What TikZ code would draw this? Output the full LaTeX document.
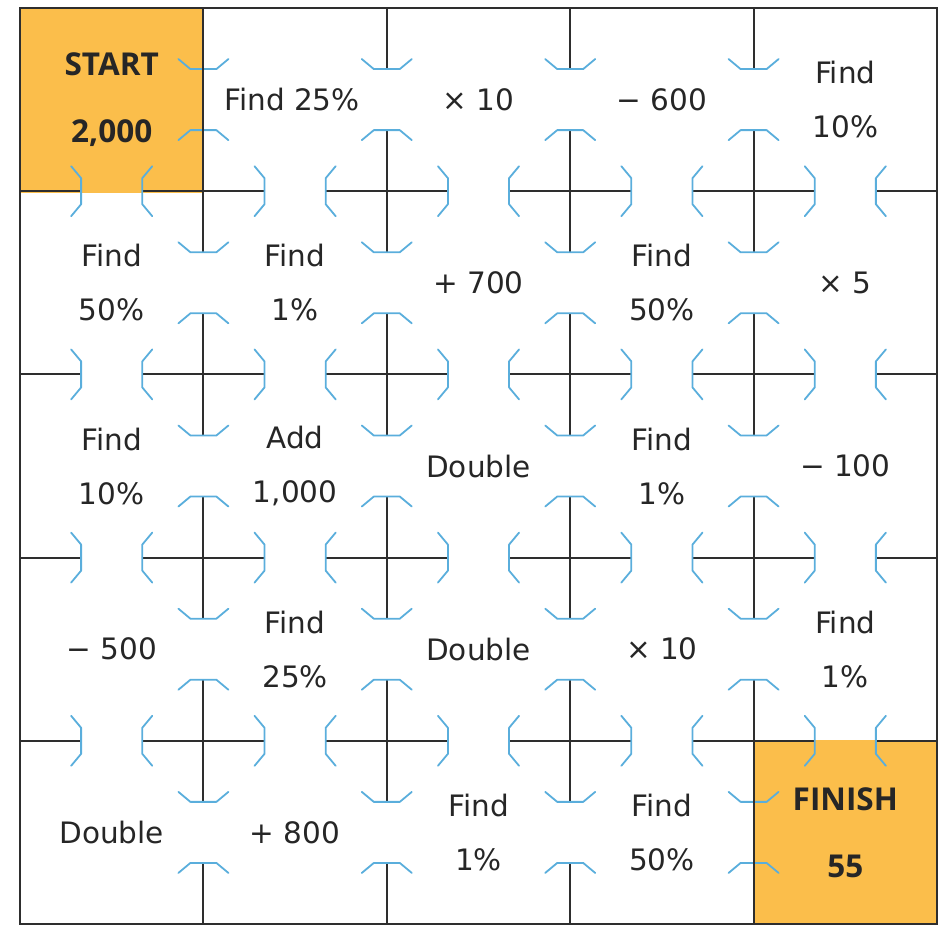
\documentclass[tikz,border=0pt]{standalone}
\usepackage{fontspec}
\setmainfont{DejaVu Sans}
\newfontfamily\boldlbl{Open Sans}[UprightFont=* Bold]
\definecolor{wallc}{HTML}{2E2E2E}
\definecolor{doorc}{HTML}{5AAEDC}
\definecolor{startc}{HTML}{FBBE4B}
\definecolor{txtc}{HTML}{262626}
\begin{document}
\begin{tikzpicture}[x=1pt,y=-1pt,
  wall/.style={draw=wallc,line width=2.1pt},
  doorline/.style={draw=doorc,line width=1.8pt,line join=round,line cap=round},
  lbl/.style={font=\fontsize{29.5}{54}\selectfont,align=center,text=txtc},
  endlbl/.style={font=\boldlbl\fontsize{31.5}{67}\selectfont,align=center,text=txtc}]
\useasboundingbox (0,0) rectangle (941,937);
\def\Sx{183.4}
\def\Sy{183.2}
% coloured cells
\fill[startc] (20,8) rectangle (203.4,192.5);
\fill[startc] (753.6,739.5) rectangle (937,924);
% vertical internal walls
\foreach \i in {1,...,4} {
  \foreach \j in {0,...,4} {
    \pgfmathsetmacro\X{20+\Sx*\i}
    \pgfmathsetmacro\Ya{8+\Sy*\j}
    \pgfmathsetmacro\Yb{\Ya+\Sy/3}
    \pgfmathsetmacro\Yc{\Ya+2*\Sy/3}
    \pgfmathsetmacro\Yd{\Ya+\Sy}
    \draw[wall] (\X,\Ya) -- (\X,\Yb);
    \draw[wall] (\X,\Yc) -- (\X,\Yd);
    \draw[doorline] ({\X-25},{\Yb-10}) -- ({\X-13},\Yb) -- ({\X+13},\Yb) -- ({\X+25},{\Yb-10});
    \draw[doorline] ({\X-25},{\Yc+10}) -- ({\X-13},\Yc) -- ({\X+13},\Yc) -- ({\X+25},{\Yc+10});
  }
}
% horizontal internal walls
\foreach \j in {1,...,4} {
  \foreach \i in {0,...,4} {
    \pgfmathsetmacro\Y{8+\Sy*\j}
    \pgfmathsetmacro\Xa{20+\Sx*\i}
    \pgfmathsetmacro\Xb{\Xa+\Sx/3}
    \pgfmathsetmacro\Xc{\Xa+2*\Sx/3}
    \pgfmathsetmacro\Xd{\Xa+\Sx}
    \draw[wall] (\Xa,\Y) -- (\Xb,\Y);
    \draw[wall] (\Xc,\Y) -- (\Xd,\Y);
    \draw[doorline] ({\Xb-10},{\Y-25}) -- (\Xb,{\Y-13}) -- (\Xb,{\Y+13}) -- ({\Xb-10},{\Y+25});
    \draw[doorline] ({\Xc+10},{\Y-25}) -- (\Xc,{\Y-13}) -- (\Xc,{\Y+13}) -- ({\Xc+10},{\Y+25});
  }
}
% solid edges of start and finish cells
\draw[wall] (203.4,8) -- (203.4,191.2);
\draw[wall] (753.6,740.8) -- (753.6,924);
% outer border
\draw[wall] (20,8) rectangle (937,924);
% labels
\node[endlbl] (c00) at (111.7,99.6) {START\\2,000};
\node[lbl] (c10) at (292,99.6) {Find 25\%};
\node[lbl] (c20) at (478.5,99.6) {× 10};
\node[lbl] (c30) at (661.9,99.6) {− 600};
\node[lbl] (c40) at (845.3,99.6) {Find\\10\%};
\node[lbl] (c01) at (111.7,282.8) {Find\\50\%};
\node[lbl] (c11) at (295.1,282.8) {Find\\1\%};
\node[lbl] (c21) at (478.5,282.8) {+ 700};
\node[lbl] (c31) at (661.9,282.8) {Find\\50\%};
\node[lbl] (c41) at (845.3,282.8) {× 5};
\node[lbl] (c02) at (111.7,466) {Find\\10\%};
\node[lbl] (c12) at (295.1,466) {Add\\1,000};
\node[lbl] (c22) at (478.5,466) {Double};
\node[lbl] (c32) at (661.9,466) {Find\\1\%};
\node[lbl] (c42) at (845.3,466) {− 100};
\node[lbl] (c03) at (111.7,649.2) {− 500};
\node[lbl] (c13) at (295.1,649.2) {Find\\25\%};
\node[lbl] (c23) at (478.5,649.2) {Double};
\node[lbl] (c33) at (661.9,649.2) {× 10};
\node[lbl] (c43) at (845.3,649.2) {Find\\1\%};
\node[lbl] (c04) at (111.7,832.4) {Double};
\node[lbl] (c14) at (295.1,832.4) {+ 800};
\node[lbl] (c24) at (478.5,832.4) {Find\\1\%};
\node[lbl] (c34) at (661.9,832.4) {Find\\50\%};
\node[endlbl] (c44) at (845.3,832.4) {FINISH\\55};
\end{tikzpicture}
\end{document}
